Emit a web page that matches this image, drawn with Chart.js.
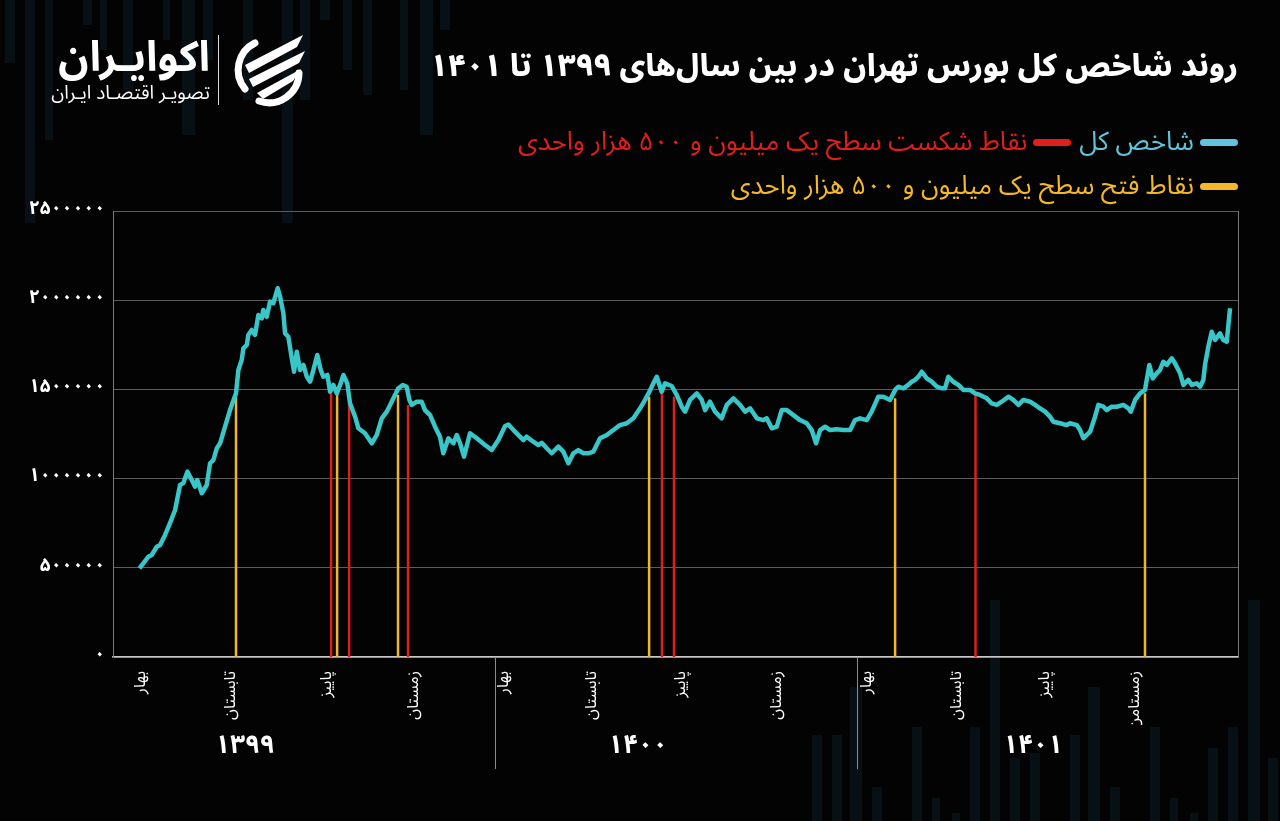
<!DOCTYPE html>
<html lang="fa">
<head>
<meta charset="utf-8">
<title>روند شاخص کل بورس تهران</title>
<script src="https://cdn.jsdelivr.net/npm/chart.js@4.4.0/dist/chart.umd.min.js"></script>
<style>
  html, body { margin: 0; padding: 0; }
  body {
    width: 1280px; height: 821px; overflow: hidden; position: relative;
    background: #030303; font-family: 'Noto Sans Arabic', 'Vazirmatn', 'DejaVu Sans', sans-serif; color: #fff;
  }
  .deco { position: absolute; background: rgba(16, 46, 58, 0.32); z-index: 0; }
  #chart { position: absolute; left: 0; top: 0; z-index: 1; }
  .txt { position: absolute; z-index: 2; direction: rtl; white-space: nowrap; }
  .title { right: 42px; top: 45px; font-size: 31px; font-weight: 800; line-height: 42px; }
  .legend-row { right: 42px; display: flex; align-items: center; font-size: 26px; line-height: 30px; }
  .sw { display: inline-block; width: 38px; height: 7px; border-radius: 4px; margin-left: 6px; }
  .gap { margin-left: 8px; }
  .brand { right: 1070px; top: 34px; text-align: right; }
  .brand .name { font-size: 42px; font-weight: bold; line-height: 48px; }
  .brand .sub { font-size: 19px; line-height: 22px; }
  .divider { position: absolute; left: 218px; top: 35px; width: 1px; height: 70px; background: #ddd; z-index: 2; }
  .logo { position: absolute; left: 231px; top: 31px; z-index: 2; }
</style>
</head>
<body>

<!-- faint background stripes -->
<div class="deco" style="left:5px;top:0;width:10px;height:63px"></div>
<div class="deco" style="left:25px;top:0;width:10px;height:223px"></div>
<div class="deco" style="left:45px;top:0;width:8px;height:140px"></div>
<div class="deco" style="left:83px;top:0;width:9px;height:25px"></div>
<div class="deco" style="left:100px;top:0;width:7px;height:50px"></div>
<div class="deco" style="left:123px;top:0;width:10px;height:90px"></div>
<div class="deco" style="left:163px;top:0;width:7px;height:40px"></div>
<div class="deco" style="left:182px;top:0;width:13px;height:135px"></div>
<div class="deco" style="left:203px;top:0;width:10px;height:60px"></div>
<div class="deco" style="left:243px;top:0;width:10px;height:100px"></div>
<div class="deco" style="left:282px;top:0;width:11px;height:223px"></div>
<div class="deco" style="left:300px;top:0;width:10px;height:100px"></div>
<div class="deco" style="left:320px;top:0;width:10px;height:20px"></div>
<div class="deco" style="left:343px;top:0;width:9px;height:70px"></div>
<div class="deco" style="left:363px;top:0;width:9px;height:95px"></div>
<div class="deco" style="left:400px;top:0;width:8px;height:90px"></div>
<div class="deco" style="left:420px;top:0;width:13px;height:135px"></div>
<div class="deco" style="left:440px;top:0;width:10px;height:30px"></div>

<div class="deco" style="left:812px;top:735px;width:10px;height:86px"></div>
<div class="deco" style="left:832px;top:735px;width:10px;height:86px"></div>
<div class="deco" style="left:850px;top:687px;width:12px;height:134px"></div>
<div class="deco" style="left:872px;top:787px;width:10px;height:34px"></div>
<div class="deco" style="left:912px;top:727px;width:10px;height:94px"></div>
<div class="deco" style="left:932px;top:798px;width:8px;height:23px"></div>
<div class="deco" style="left:952px;top:813px;width:8px;height:8px"></div>
<div class="deco" style="left:970px;top:727px;width:10px;height:94px"></div>
<div class="deco" style="left:990px;top:600px;width:10px;height:221px"></div>
<div class="deco" style="left:1010px;top:758px;width:10px;height:63px"></div>
<div class="deco" style="left:1030px;top:753px;width:10px;height:68px"></div>
<div class="deco" style="left:1070px;top:735px;width:10px;height:86px"></div>
<div class="deco" style="left:1088px;top:687px;width:12px;height:134px"></div>
<div class="deco" style="left:1110px;top:787px;width:10px;height:34px"></div>
<div class="deco" style="left:1150px;top:727px;width:10px;height:94px"></div>
<div class="deco" style="left:1170px;top:798px;width:8px;height:23px"></div>
<div class="deco" style="left:1190px;top:813px;width:8px;height:8px"></div>
<div class="deco" style="left:1208px;top:748px;width:10px;height:73px"></div>
<div class="deco" style="left:1228px;top:727px;width:10px;height:94px"></div>
<div class="deco" style="left:1248px;top:600px;width:12px;height:221px"></div>
<div class="deco" style="left:1268px;top:758px;width:10px;height:63px"></div>

<canvas id="chart" width="1280" height="821"></canvas>

<div class="txt brand">
  <div class="name">اکوایـران</div>
  <div class="sub">تصویـر اقتصـاد ایـران</div>
</div>
<div class="divider"></div>
<svg class="logo" width="76" height="76" viewBox="0 0 76 76">
  <g fill="none" stroke="#fff" stroke-width="7" stroke-linecap="round">
    <path d="M 24 12 A 30 30 0 0 0 14 58"/>
    <path d="M 28 70 A 30 30 0 0 0 68 42"/>
  </g>
  <g fill="#fff">
    <path d="M 14 34 L 72 4 L 66 16 L 18 42 Z"/>
    <path d="M 18 48 L 74 20 L 68 32 L 22 56 Z"/>
    <path d="M 26 62 L 70 38 L 62 50 L 32 68 Z"/>
  </g>
</svg>

<div class="txt title">روند شاخص کل بورس تهران در بین سال‌های ۱۳۹۹ تا ۱۴۰۱</div>

<div class="txt legend-row" style="top:127px">
  <span class="sw" style="background:#62c3dc"></span>
  <span class="gap" style="color:#62c3dc">شاخص کل</span>
  <span class="sw" style="background:#e01e1e"></span>
  <span style="color:#e01e1e">نقاط شکست سطح یک میلیون و ۵۰۰ هزار واحدی</span>
</div>
<div class="txt legend-row" style="top:171px">
  <span class="sw" style="background:#f5b928"></span>
  <span style="color:#f5b928">نقاط فتح سطح یک میلیون و ۵۰۰ هزار واحدی</span>
</div>

<script>
// x = trading session counted from the start of 1399
const seasonTicks = [3.3, 62.7, 126.7, 184.7, 244.7, 304, 363.3, 426.7, 486.7, 547.3, 606, 666];
const seasonNames = ['بهار', 'تابستان', 'پاییز', 'زمستان', 'بهار', 'تابستان', 'پاییز', 'زمستان', 'بهار', 'تابستان', 'پاییز', 'زمستامن'];
const yearTicks = [71.3, 333.3, 596.7];
const yearNames = ['۱۳۹۹', '۱۴۰۰', '۱۴۰۱'];
const yearStarts = [237.7, 479.3];

// total index, in thousand units
const sessions = [
  0.9, 3.5, 6.9, 9.1, 12.5, 14.7, 18, 21.3, 24.7, 28, 30.2, 32.9, 35.8, 38, 39.5, 42.5, 45.8, 48, 50.2, 52.5,
  54.7, 58, 61.3, 65.3, 66.9, 69.1, 70.2, 72.5, 73.5, 75.8, 78, 80.2, 82.5, 83.5, 85.8, 88, 90.2, 93.1, 94.7, 96.9,
  98, 100.2, 102.5, 104, 105.8, 108, 110.2, 112.5, 114.7, 116.9, 119.5, 121.8, 123.5, 126.2, 128, 130.2, 132.5, 134.7, 136.9, 139.5,
  141.3, 144.7, 146.9, 151.3, 155.8, 159.1, 162.5, 165.8, 169.1, 173.5, 176.5, 179.1, 180.9, 182.5, 185.8, 189.1, 191.3, 194.7, 198, 201.3,
  203.5, 206.9, 210.2, 212.5, 214.7, 217.3, 221.3, 225.8, 231.3, 235.8, 240.2, 244.7, 246.9, 251.3, 256.9, 259.1, 263.5, 266.9, 269.1, 272.5,
  275.8, 280.2, 283.5, 286.9, 290.2, 293.5, 296.9, 300.2, 303.5, 308, 312.5, 316.9, 321.3, 325.8, 330.2, 334.7, 338, 340.9, 343.5, 345.8,
  349.1, 351.3, 355.8, 359.1, 362.5, 364.7, 368, 372.5, 375.8, 378, 381.3, 384.7, 389.1, 392.5, 396.9, 401.3, 404.7, 408, 412.5, 416.9,
  419.1, 422.5, 425.8, 429.1, 432.5, 436.9, 441.3, 445.8, 449.1, 452, 454.7, 458, 461.3, 465.8, 470.2, 474.7, 478, 481.3, 485.8, 489.1,
  493.5, 496.9, 501.3, 505, 506.9, 510.2, 513.5, 515.8, 518, 520.2, 522.5, 525.8, 529.1, 532.5, 535.8, 538, 540.2, 543.5, 546.9, 550.2,
  554.7, 558, 561.3, 565.8, 569.1, 572.5, 575.8, 580.2, 583.5, 586.9, 590.2, 594.7, 598, 601.3, 604.7, 608, 610.2, 614.7, 619.1, 621.3,
  625.8, 628, 630.2, 634.7, 638, 640.2, 643.5, 645.8, 649.1, 652.5, 656.9, 660.2, 661.8, 664.7, 668, 671.3, 674.2, 676.5, 679.1, 681.3,
  683.5, 685.8, 689.1, 691.3, 694.7, 696.9, 700.2, 702.5, 705.8, 708, 710.2, 711.3, 713.5, 715.8, 718, 721.3, 723.5, 725.8, 728
];
const indexThousands = [
  497, 525, 562, 572, 618, 628, 684, 751, 824, 964, 975, 1039, 992, 955, 992, 918, 964, 1086, 1104, 1170,
  1198, 1291, 1384, 1478, 1609, 1665, 1730, 1749, 1805, 1833, 1805, 1917, 1898, 1945, 1907, 1992, 1983, 2067, 2020, 1926,
  1814, 1795, 1674, 1599, 1711, 1609, 1637, 1571, 1543, 1609, 1693, 1609, 1571, 1581, 1487, 1525, 1478, 1525, 1581, 1534,
  1422, 1347, 1282, 1254, 1198, 1244, 1338, 1375, 1431, 1506, 1525, 1515, 1441, 1413, 1431, 1431, 1384, 1356, 1291, 1235,
  1142, 1226, 1198, 1244, 1198, 1123, 1254, 1226, 1188, 1160, 1216, 1295, 1303, 1263, 1216, 1235, 1207, 1188, 1201, 1170,
  1142, 1179, 1151, 1086, 1142, 1160, 1142, 1142, 1151, 1226, 1244, 1272, 1300, 1310, 1338, 1394, 1441, 1487, 1534, 1571,
  1487, 1534, 1519, 1469, 1403, 1375, 1441, 1478, 1441, 1384, 1431, 1375, 1338, 1413, 1450, 1413, 1375, 1394, 1338, 1328,
  1338, 1282, 1291, 1384, 1384, 1356, 1328, 1310, 1272, 1198, 1272, 1291, 1272, 1276, 1272, 1272, 1328, 1338, 1328, 1375,
  1459, 1459, 1441, 1500, 1515, 1506, 1525, 1543, 1553, 1571, 1599, 1562, 1543, 1515, 1506, 1506, 1571, 1543, 1525, 1497,
  1497, 1478, 1469, 1450, 1422, 1413, 1431, 1459, 1441, 1413, 1441, 1431, 1413, 1394, 1375, 1347, 1319, 1310, 1300, 1310,
  1300, 1272, 1226, 1263, 1347, 1413, 1403, 1384, 1403, 1403, 1413, 1394, 1375, 1441, 1478, 1497, 1637, 1562, 1590, 1609,
  1655, 1637, 1674, 1646, 1590, 1525, 1553, 1525, 1534, 1515, 1553, 1637, 1739, 1823, 1777, 1814, 1777, 1767, 1955
];

// breaking below / climbing above the 1.5 million level
const breakSessions = [128.7, 140.7, 180, 349.3, 357.3, 558.3];
const breakTops = [1478000, 1422000, 1412000, 1487000, 1459000, 1478000];
const conquerSessions = [65.3, 132.7, 173.3, 340.7, 504.7, 671.3];
const conquerTops = [1468000, 1487000, 1468000, 1459000, 1450000, 1478000];

const faDigits = s => String(s).replace(/\d/g, d => '۰۱۲۳۴۵۶۷۸۹'[d]);
const verticals = (xs, tops) => xs.flatMap((x, i) => [{ x, y: 0 }, { x, y: tops[i] }, { x, y: null }]);

Chart.defaults.font.family = "'Noto Sans Arabic', 'Vazirmatn', 'DejaVu Sans', sans-serif";

// thin separators between the years, under the axis
const yearDividers = {
  id: 'yearDividers',
  afterDraw(chart) {
    const { ctx, chartArea } = chart;
    const x = chart.scales.x;
    ctx.save();
    ctx.strokeStyle = '#8c8c8c';
    ctx.lineWidth = 1;
    yearStarts.forEach(v => {
      const px = Math.round(x.getPixelForValue(v)) + 0.5;
      ctx.beginPath();
      ctx.moveTo(px, chartArea.bottom);
      ctx.lineTo(px, chartArea.bottom + 112);
      ctx.stroke();
    });
    ctx.restore();
  }
};

const ctx = document.getElementById('chart').getContext('2d');

new Chart(ctx, {
  type: 'line',
  data: {
    datasets: [{
      label: 'شاخص کل',
      data: sessions.map((x, i) => ({ x, y: indexThousands[i] * 1000 })),
      borderColor: '#38c6c9',
      borderWidth: 4.5,
      pointRadius: 0,
      borderJoinStyle: 'round'
    }, {
      label: 'نقاط شکست سطح یک میلیون و ۵۰۰ هزار واحدی',
      data: verticals(breakSessions, breakTops),
      borderColor: '#dd1f1f',
      borderWidth: 2.5,
      pointRadius: 0
    }, {
      label: 'نقاط فتح سطح یک میلیون و ۵۰۰ هزار واحدی',
      data: verticals(conquerSessions, conquerTops),
      borderColor: '#efb52b',
      borderWidth: 2.5,
      pointRadius: 0
    }]
  },
  options: {
    responsive: false,
    animation: false,
    layout: { padding: { top: 211, right: 42, bottom: 56, left: 0 } },
    plugins: {
      legend: { display: false },
      tooltip: { enabled: false }
    },
    scales: {
      x: {
        type: 'linear',
        min: -16.7,
        max: 733.3,
        afterBuildTicks: s => { s.ticks = seasonTicks.map(value => ({ value })); },
        afterFit: s => { s.height = 68; },
        ticks: {
          callback: (v, i) => seasonNames[i],
          autoSkip: false,
          minRotation: 90,
          maxRotation: 90,
          color: '#fff',
          font: { size: 16 },
          padding: 6
        },
        grid: { display: false },
        border: { color: '#c8c8c8', width: 1.5 }
      },
      xYear: {
        type: 'linear',
        position: 'bottom',
        weight: 1,
        min: -16.7,
        max: 733.3,
        afterBuildTicks: s => { s.ticks = yearTicks.map(value => ({ value })); },
        afterFit: s => { s.height = 40; },
        ticks: {
          callback: (v, i) => yearNames[i],
          autoSkip: false,
          maxRotation: 0,
          color: '#fff',
          font: { size: 26, weight: 'bold' },
          padding: 0
        },
        grid: { display: false },
        border: { display: false }
      },
      y: {
        min: 0,
        max: 2500000,
        afterFit: s => { s.width = 113; },
        ticks: {
          stepSize: 500000,
          callback: v => faDigits(v),
          color: '#fff',
          font: { size: 19, weight: 'bold' },
          padding: 8
        },
        grid: { color: '#5c5c5c', drawTicks: false },
        border: { color: '#7a7a7a' }
      },
      yRight: {
        position: 'right',
        min: 0,
        max: 2500000,
        afterFit: s => { s.width = 0; },
        ticks: { display: false },
        grid: { drawOnChartArea: false, drawTicks: false },
        border: { color: '#7a7a7a' }
      }
    }
  },
  plugins: [yearDividers]
});
</script>
</body>
</html>
